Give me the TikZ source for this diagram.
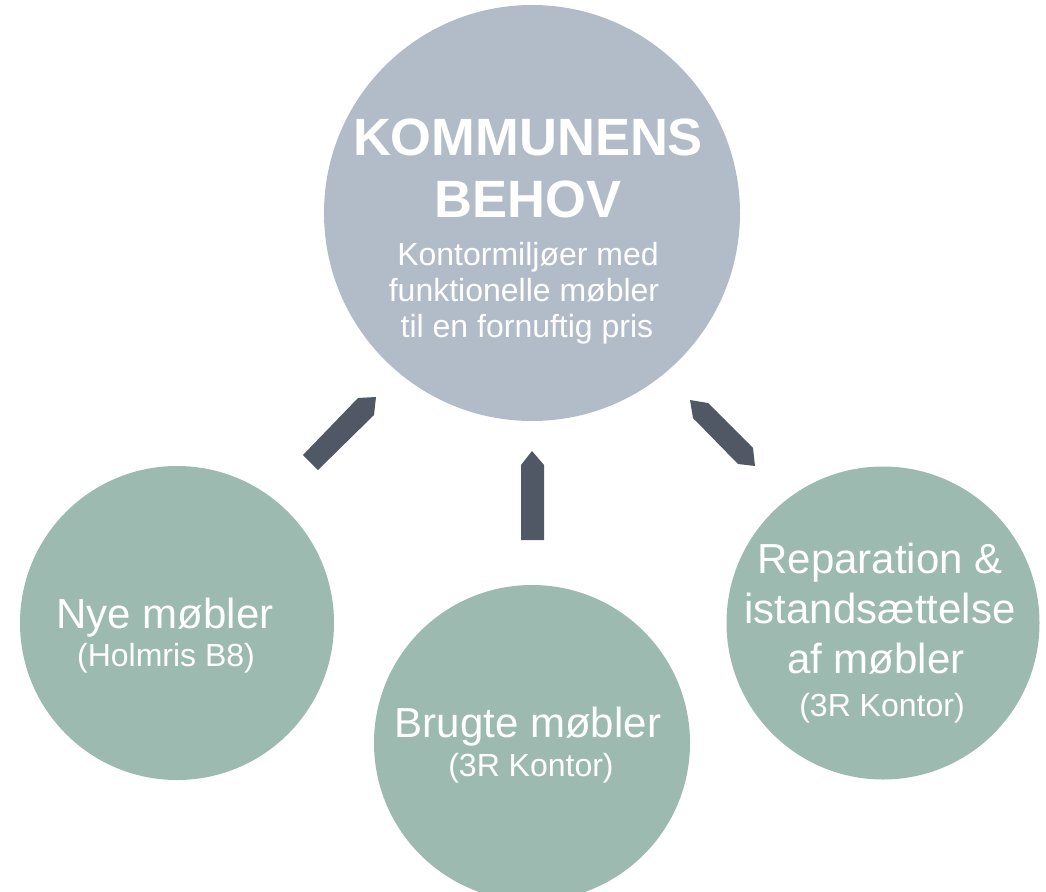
\documentclass[tikz,border=0pt]{standalone}
\usepackage{fontspec}
\setmainfont{Liberation Sans}
\definecolor{topc}{HTML}{B2BCC8}
\definecolor{grn}{HTML}{9DBAB0}
\definecolor{arr}{HTML}{505866}
\begin{document}
\begin{tikzpicture}[x=1pt,y=-1pt,
  bubble/.style={circle, inner sep=0pt, draw=none},
  txt/.style={anchor=base, text=white, inner sep=0pt},
  big/.style={txt, font=\fontsize{52.5}{60}\selectfont\bfseries},
  mid/.style={txt, font=\fontsize{32}{36}\selectfont},
  lab/.style={txt, font=\fontsize{42}{48}\selectfont},
  sub/.style={txt, font=\fontsize{32}{36}\selectfont},
  bar/.style={fill=arr, draw=none}]
\useasboundingbox (0,0) rectangle (1046,891);
\clip (0,0) rectangle (1046,891);
% circles
\node[bubble, fill=topc, minimum size=416pt] (top) at (532,213) {};
\node[bubble, fill=grn, minimum size=314pt] (left) at (177,623) {};
\node[bubble, fill=grn, minimum size=316pt] (middle) at (532,743) {};
\node[bubble, fill=grn, minimum size=313pt] (right) at (883,623) {};
% connectors
\fill[bar] (303,455) -- (318,470) -- (374,415) -- (376,397) -- (358,398) -- cycle;
\fill[bar] (521,540) -- (544,540) -- (544,465) -- (532,451) -- (521,465) -- cycle;
\fill[bar] (690,400) -- (708,403) -- (753,448) -- (755,466) -- (738,464) -- (693,418) -- cycle;
% texts
\node[big] (t1) at (528,155) {KOMMUNENS};
\node[big] (t2) at (528,217) {BEHOV};
\node[mid] (t3) at (528,265) {Kontormiljøer med};
\node[mid] (t4) at (524,301) {funktionelle møbler};
\node[mid] (t5) at (527,337) {til en fornuftig pris};
\node[lab] (l1) at (165,628) {Nye møbler};
\node[sub] (l2) at (166,666) {(Holmris B8)};
\node[lab] (m1) at (528,737) {Brugte møbler};
\node[sub] (m2) at (531,776) {(3R Kontor)};
\node[lab] (r1) at (880,573) {Reparation \&};
\node[lab] (r2) at (880,623) {istandsættelse};
\node[lab] (r3) at (876,673) {af møbler};
\node[sub] (r4) at (882,716) {(3R Kontor)};
\end{tikzpicture}
\end{document}
